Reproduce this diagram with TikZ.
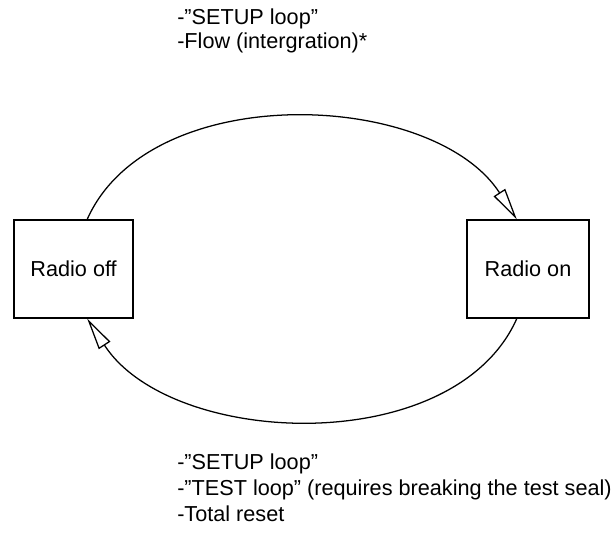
\documentclass[tikz,border=0pt]{standalone}
\usepackage{fontspec}
\setmainfont{Liberation Sans}
\usetikzlibrary{arrows.meta}
\tikzset{
  radiobox/.style={draw,line width=0.9pt,minimum height=2.45cm,inner sep=0pt,font=\fontsize{15.4}{18}\selectfont},
  loopline/.style={line width=0.9pt,-{Triangle[open,length=0.8cm,width=0.34cm]}},
  notes/.style={align=left,anchor=west,inner sep=0pt}
}
\begin{document}
\begin{tikzpicture}
\useasboundingbox (0,0) rectangle (15.4,13.375);
\node[radiobox,minimum width=2.975cm] (off) at (1.84,6.65) {Radio off};
\node[radiobox,minimum width=3.05cm] (on) at (13.2,6.65) {Radio on};
\node[notes,font=\fontsize{15.4}{16.5}\selectfont] (topnote) at (4.425,12.6) {-”SETUP loop”\\-Flow (intergration)*};
\node[notes,font=\fontsize{15.4}{18.5}\selectfont] (bottomnote) at (4.425,1.175) {-”SETUP loop”\\-”TEST loop” (requires breaking the test seal)\\-Total reset};
\draw[loopline] ([xshift=0.34cm]off.north) to[out=66,in=123,looseness=0.92] ([xshift=-0.28cm]on.north);
\draw[loopline] ([xshift=-0.28cm]on.south) to[out=-114,in=-57,looseness=0.92] ([xshift=0.34cm]off.south);
\end{tikzpicture}
\end{document}
